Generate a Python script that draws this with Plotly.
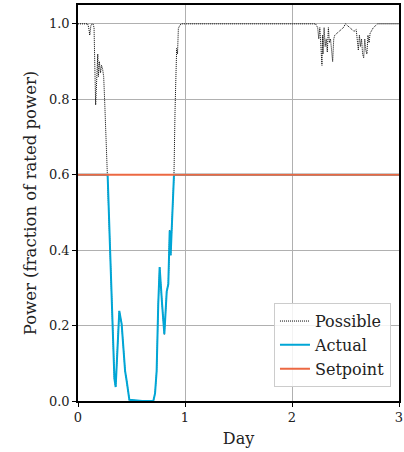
import plotly.graph_objects as go

# Possible power (fraction of rated)
possible_days = [0.0, 0.09, 0.10, 0.11, 0.12, 0.13, 0.14, 0.15, 0.16, 0.165, 0.17, 0.175, 0.18, 0.185,
                 0.19, 0.20, 0.21, 0.22, 0.23, 0.24, 0.25, 0.26, 0.27, 0.277,
                 0.30, 0.34, 0.352, 0.37, 0.386, 0.408, 0.44, 0.455, 0.48, 0.60, 0.704,
                 0.72, 0.735, 0.75, 0.763, 0.785, 0.807, 0.829, 0.844, 0.857, 0.866, 0.875, 0.885, 0.897,
                 0.907, 0.915, 0.922, 0.93, 0.938, 0.95, 0.963, 1.2, 1.6, 2.0, 2.22,
                 2.24, 2.25, 2.26, 2.27, 2.28, 2.285, 2.29, 2.30, 2.31, 2.32, 2.33, 2.34, 2.35,
                 2.36, 2.37, 2.38, 2.39, 2.40, 2.42, 2.44, 2.46, 2.48, 2.50, 2.52, 2.54, 2.56,
                 2.58, 2.60, 2.61, 2.62, 2.63, 2.64, 2.65, 2.66, 2.67, 2.68, 2.69, 2.70, 2.71,
                 2.72, 2.73, 2.76, 2.78, 2.80, 3.0]
possible_values = [1.0, 1.0, 0.99, 0.97, 0.995, 1.0, 1.0, 0.99, 0.85, 0.785, 0.82, 0.86, 0.88, 0.92,
                   0.86, 0.90, 0.87, 0.89, 0.88, 0.86, 0.79, 0.70, 0.64, 0.60,
                   0.40, 0.06, 0.037, 0.15, 0.239, 0.204, 0.08, 0.053, 0.003, 0.0, 0.0,
                   0.02, 0.08, 0.257, 0.355, 0.26, 0.177, 0.29, 0.31, 0.452, 0.386, 0.45, 0.52, 0.60,
                   0.771, 0.86, 0.935, 0.92, 0.988, 0.995, 1.0, 1.0, 1.0, 1.0, 1.0,
                   0.99, 0.96, 0.99, 0.93, 0.89, 0.97, 0.92, 0.99, 0.94, 0.96, 0.925, 0.99, 0.95,
                   0.96, 0.93, 0.90, 0.96, 0.97, 0.975, 0.98, 0.985, 0.99, 1.0, 0.995, 0.99, 0.985,
                   0.98, 0.985, 0.95, 0.93, 0.97, 0.94, 0.96, 0.92, 0.91, 0.96, 0.93, 0.92, 0.97,
                   0.95, 0.975, 0.99, 0.995, 1.0, 1.0]

# Actual power (capped at setpoint)
actual_days = [0.0, 0.277, 0.30, 0.34, 0.352, 0.37, 0.386, 0.408, 0.44, 0.455, 0.48, 0.60, 0.704,
               0.72, 0.735, 0.75, 0.763, 0.785, 0.807, 0.829, 0.844, 0.857, 0.866, 0.875, 0.885, 0.897, 3.0]
actual_values = [0.60, 0.60, 0.40, 0.06, 0.037, 0.15, 0.239, 0.204, 0.08, 0.053, 0.003, 0.0, 0.0,
                 0.02, 0.08, 0.257, 0.355, 0.26, 0.177, 0.29, 0.31, 0.452, 0.386, 0.45, 0.52, 0.60, 0.60]

setpoint_days = [0.0, 3.0]
setpoint_values = [0.6, 0.6]

x_ticks = [0, 1, 2, 3]
y_ticks = [0.0, 0.2, 0.4, 0.6, 0.8, 1.0]

FONT = "DejaVu Serif"

fig = go.Figure()
fig.add_trace(go.Scatter(x=possible_days, y=possible_values, mode="lines", name="Possible",
                         line=dict(color="black", width=1, dash="1px,1px")))
fig.add_trace(go.Scatter(x=actual_days, y=actual_values, mode="lines", name="Actual",
                         line=dict(color="#00A6D6", width=2)))
fig.add_trace(go.Scatter(x=setpoint_days, y=setpoint_values, mode="lines", name="Setpoint",
                         line=dict(color="#EC6842", width=2)))

axis_common = dict(showline=True, linecolor="black", linewidth=1.5, mirror=True,
                   showgrid=True, gridcolor="#b0b0b0", gridwidth=1.2,
                   ticks="outside", ticklen=4, tickcolor="black", tickwidth=1.2,
                   zeroline=False, automargin=False,
                   tickfont=dict(family=FONT, size=13, color="#222"))

fig.update_xaxes(range=[0, 3], tickvals=x_ticks, ticktext=[str(v) for v in x_ticks],
                 title=dict(text="Day", font=dict(family=FONT, size=16, color="#222"), standoff=8),
                 **axis_common)
fig.update_yaxes(range=[0, 1.05], tickvals=y_ticks, ticktext=[f"{v:.1f}" for v in y_ticks],
                 title=dict(text="Power (fraction of rated power)",
                            font=dict(family=FONT, size=16.5, color="#222"), standoff=8),
                 **axis_common)

fig.update_layout(
    width=404, height=452,
    margin=dict(l=78, r=5, t=5, b=51),
    plot_bgcolor="white", paper_bgcolor="white",
    font=dict(family=FONT, color="#222"),
    legend=dict(x=0.975, y=0.035, xanchor="right", yanchor="bottom",
                bgcolor="rgba(255,255,255,0.85)", bordercolor="#cccccc", borderwidth=1,
                font=dict(family=FONT, size=16, color="#222"), tracegroupgap=0),
    showlegend=True,
)

fig.write_html("out.html")
